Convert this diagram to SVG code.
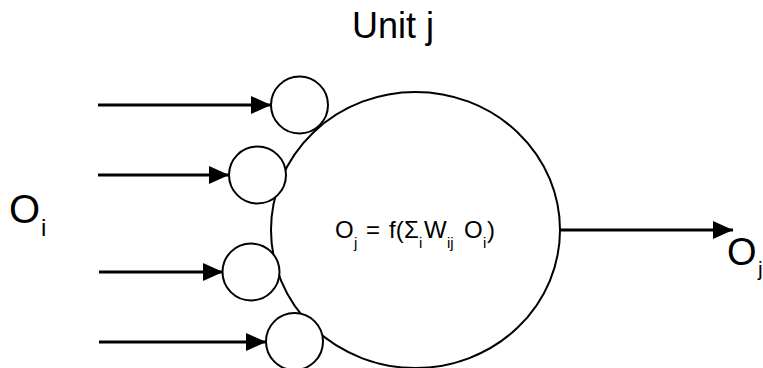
<svg xmlns="http://www.w3.org/2000/svg" width="763" height="368" viewBox="0 0 763 368">
<style>
  .ln { stroke:#000; stroke-width:3; fill:none; }
  .cir { stroke:#000; stroke-width:2; fill:#fff; }
  .big { stroke:#000; stroke-width:2; fill:#fff; }
  text { font-family:"Liberation Sans", Arial, sans-serif; fill:#000; }
  .lbl { font-size:40px; }
  .lsub { font-size:24px; }
  .f { font-size:24px; }
  .fs { font-size:15px; }
</style>
<defs>
  <marker id="ah" markerWidth="20" markerHeight="18" refX="20" refY="9" orient="auto" markerUnits="userSpaceOnUse">
    <path d="M0,0 L20,9 L0,18 Z" fill="#000"/>
  </marker>
</defs>
<g id="unit">
  <ellipse class="big" cx="415.5" cy="230" rx="144.5" ry="138"/>
  <text class="f" y="238"><tspan x="335">O</tspan><tspan class="fs" x="354" y="248">j</tspan><tspan x="366" y="238">=</tspan><tspan x="389">f(</tspan><tspan x="404">Σ</tspan><tspan class="fs" x="419" y="248">i</tspan><tspan x="424" y="238">W</tspan><tspan class="fs" x="447" y="248">ij</tspan><tspan x="464" y="238">O</tspan><tspan class="fs" x="483" y="248">i</tspan><tspan x="487" y="238">)</tspan></text>
</g>
<g id="syn1"><circle class="cir" cx="299.5" cy="105" r="28.5"/></g>
<g id="syn2"><circle class="cir" cx="257.5" cy="175" r="28.5"/></g>
<g id="syn3"><circle class="cir" cx="251" cy="272" r="28.5"/></g>
<g id="syn4"><circle class="cir" cx="294.5" cy="341.5" r="28.5"/></g>
<g id="connectors">
  <line class="ln" x1="98" y1="105" x2="271" y2="105" marker-end="url(#ah)"/>
  <line class="ln" x1="98" y1="175" x2="229" y2="175" marker-end="url(#ah)"/>
  <line class="ln" x1="99" y1="272" x2="223" y2="272" marker-end="url(#ah)"/>
  <line class="ln" x1="99" y1="342" x2="266" y2="342" marker-end="url(#ah)"/>
  <line class="ln" x1="560" y1="230" x2="733" y2="230" marker-end="url(#ah)"/>
</g>
<g id="title"><text x="352" y="38" font-size="36">Unit j</text></g>
<g id="input-label"><text class="lbl" x="9" y="223">O</text><text class="lsub" x="41" y="236">i</text></g>
<g id="output-label"><text x="727" y="265" font-size="38">O</text><text x="758" y="276" font-size="21">j</text></g>
</svg>
